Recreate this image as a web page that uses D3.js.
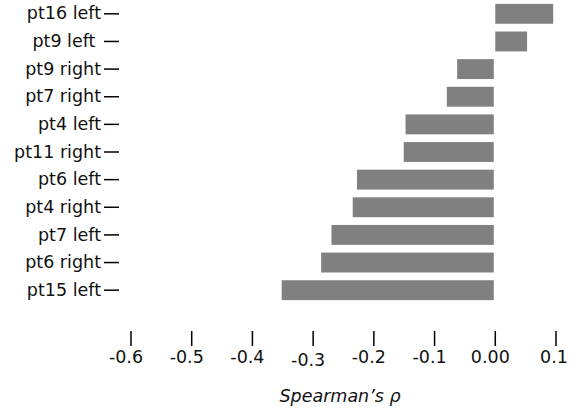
<!DOCTYPE html>
<html>
<head>
<meta charset="utf-8">
<script src="https://cdn.jsdelivr.net/npm/d3@7"></script>
<style>
  body { margin: 0; background: #fff; }
  text { font-family: "DejaVu Sans", sans-serif; }
</style>
</head>
<body>
<div id="chart"></div>
<script>
const categories = ["pt16 left", "pt9 left ", "pt9 right", "pt7 right", "pt4 left", "pt11 right",
                    "pt6 left", "pt4 right", "pt7 left", "pt6 right", "pt15 left"];
const rho = [0.097, 0.054, -0.062, -0.079, -0.147, -0.150, -0.227, -0.234, -0.269, -0.286, -0.351];
const xTicks = [-0.6, -0.5, -0.4, -0.3, -0.2, -0.1, 0, 0.1];
const xTickLabels = ["-0.6", "-0.5", "-0.4", "-0.3", "-0.2", "-0.1", "0.00", "0.1"];

const width = 579, height = 410;
const fontSize = "17.5px";

const svg = d3.select("#chart")
              .append("svg")
              .attr("width", width)
              .attr("height", height);

const x = d3.scaleLinear()
            .domain([-0.6, 0.1])
            .range([130.5, 555.5]);

const y = d3.scaleBand()
            .domain(categories)
            .range([0, 304])
            .paddingInner(0.28)
            .paddingOuter(0.14);

// bars
svg.append("g")
   .selectAll("rect")
   .data(rho)
   .join("rect")
   .attr("x", d => d < 0 ? x(d) : x(0) + 0.5)
   .attr("y", (d, i) => y(categories[i]))
   .attr("width", d => Math.abs(x(d) - x(0)) - 1)
   .attr("height", y.bandwidth())
   .attr("fill", "#808080");

// y axis: labels with dash ticks, no domain line
const yAxis = svg.append("g")
                 .attr("transform", "translate(119, 0)")
                 .call(d3.axisLeft(y).tickSize(15).tickPadding(3));
yAxis.select(".domain").remove();
yAxis.selectAll("line").attr("stroke", "#000").attr("stroke-width", 1.5);
yAxis.selectAll("text")
     .style("font-size", fontSize)
     .attr("fill", "#111")
     .style("white-space", "pre");

// x axis: ticks above labels, no domain line
const xAxis = svg.append("g")
                 .attr("transform", "translate(0, 331)")
                 .call(d3.axisBottom(x)
                         .tickValues(xTicks)
                         .tickFormat((d, i) => xTickLabels[i])
                         .tickSize(15)
                         .tickPadding(5));
xAxis.select(".domain").remove();
xAxis.selectAll("line").attr("stroke", "#000").attr("stroke-width", 1.5);
xAxis.selectAll("text")
     .style("font-size", fontSize)
     .attr("fill", "#111")
     .attr("dx", d => d > 0.05 ? -2 : -5)
     .attr("y", d => d === -0.3 ? 23 : 20);

svg.append("text")
   .attr("x", 340)
   .attr("y", 402)
   .attr("text-anchor", "middle")
   .style("font-size", fontSize)
   .style("font-style", "italic")
   .attr("fill", "#111")
   .text("Spearman’s ρ");
</script>
</body>
</html>
